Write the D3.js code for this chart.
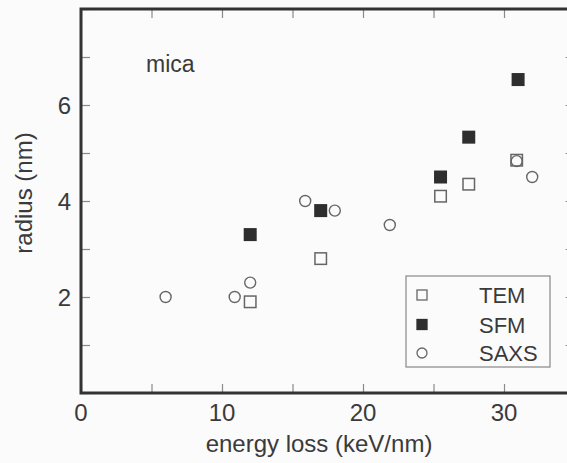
<!DOCTYPE html>
<html>
<head>
<meta charset="utf-8">
<script src="https://cdn.jsdelivr.net/npm/d3@7"></script>
<style>
html,body{margin:0;padding:0;background:#fbfbfb;}
svg{display:block;font-family:"Liberation Sans",Arial,Helvetica,sans-serif;}
</style>
</head>
<body>
<svg id="chart" width="567" height="463"></svg>
<script>
// ---- data ----
const temX = [12, 17, 25.5, 27.5, 30.9];
const temY = [1.9, 2.8, 4.1, 4.35, 4.85];
const sfmX = [12, 17, 25.5, 27.5, 31.0];
const sfmY = [3.3, 3.8, 4.5, 5.33, 6.53];
const saxsX = [6.0, 10.9, 12, 15.9, 18, 21.9, 30.9, 32];
const saxsY = [2.0, 2.0, 2.3, 4.0, 3.8, 3.5, 4.83, 4.5];
const xTickLabels = [0, 10, 20, 30];
const yTickLabels = [2, 4, 6];
const legendNames = ["TEM", "SFM", "SAXS"];

const svg = d3.select("#chart");
const x = d3.scaleLinear().domain([0, 35]).range([81, 574.5]);
const y = d3.scaleLinear().domain([0, 8]).range([393, 9]);

const textCol = "#3a3a3a";
const tickCol = "#8a8a8a";
const TL = 9;

const xTicks = d3.range(0, 36, 5);
const yTicks = d3.range(0, 9, 1);

function styleAxis(g){
  g.select(".domain").remove();
  g.selectAll(".tick line").attr("stroke", tickCol).attr("stroke-width", 1.2);
  g.selectAll(".tick text").remove();
}
svg.append("g").attr("transform", `translate(0,${y(0)})`)
  .call(d3.axisTop(x).tickValues(xTicks).tickSize(TL)).call(styleAxis);
svg.append("g").attr("transform", `translate(0,${y(8)})`)
  .call(d3.axisBottom(x).tickValues(xTicks).tickSize(TL)).call(styleAxis);
svg.append("g").attr("transform", `translate(${x(0)},0)`)
  .call(d3.axisRight(y).tickValues(yTicks).tickSize(TL)).call(styleAxis);
svg.append("g").attr("transform", `translate(${x(35)},0)`)
  .call(d3.axisLeft(y).tickValues(yTicks).tickSize(TL)).call(styleAxis);

// frame
svg.append("rect")
  .attr("x", x(0)).attr("y", y(8))
  .attr("width", x(35) - x(0)).attr("height", y(0) - y(8))
  .attr("fill", "none").attr("stroke", "#333").attr("stroke-width", 3);

// tick labels
svg.append("g").selectAll("text").data(xTickLabels).join("text")
  .attr("x", d => x(d)).attr("y", 421)
  .attr("text-anchor", "middle").attr("font-size", 24).attr("fill", textCol)
  .text(d => d);
svg.append("g").selectAll("text").data(yTickLabels).join("text")
  .attr("x", 71).attr("y", d => y(d) + 8.5)
  .attr("text-anchor", "end").attr("font-size", 24).attr("fill", textCol)
  .text(d => d);

// axis titles
svg.append("text").attr("x", 319).attr("y", 452)
  .attr("text-anchor", "middle").attr("font-size", 24).attr("fill", textCol)
  .text("energy loss (keV/nm)");
svg.append("text").attr("transform", `translate(32,193) rotate(-90)`)
  .attr("text-anchor", "middle").attr("font-size", 24).attr("fill", textCol)
  .text("radius (nm)");

// annotation
svg.append("text").attr("x", 146).attr("y", 72)
  .attr("font-size", 23).attr("fill", textCol).text("mica");

// markers
function drawSquares(xs, ys, filled, size){
  svg.append("g").selectAll("rect").data(xs.map((d, i) => [d, ys[i]])).join("rect")
    .attr("x", d => x(d[0]) - size / 2).attr("y", d => y(d[1]) - size / 2)
    .attr("width", size).attr("height", size)
    .attr("fill", filled ? "#2e2e2e" : "none")
    .attr("stroke", filled ? "#2e2e2e" : "#666").attr("stroke-width", 1.5);
}
function drawCircles(xs, ys, r){
  svg.append("g").selectAll("circle").data(xs.map((d, i) => [d, ys[i]])).join("circle")
    .attr("cx", d => x(d[0])).attr("cy", d => y(d[1])).attr("r", r)
    .attr("fill", "none").attr("stroke", "#666").attr("stroke-width", 1.4);
}
drawSquares(temX, temY, false, 11.5);
drawSquares(sfmX, sfmY, true, 11.5);
drawCircles(saxsX, saxsY, 5.5);

// legend
const lg = svg.append("g");
lg.append("rect").attr("x", 406).attr("y", 276).attr("width", 144).attr("height", 91)
  .attr("fill", "#fbfbfb").attr("stroke", "#888").attr("stroke-width", 1.2);
const rows = [295, 324.5, 353];
legendNames.forEach((name, i) => {
  const cy = rows[i], cx = 422, s = 10;
  if (i === 2) {
    lg.append("circle").attr("cx", cx).attr("cy", cy).attr("r", 5)
      .attr("fill", "none").attr("stroke", "#666").attr("stroke-width", 1.3);
  } else {
    lg.append("rect").attr("x", cx - s / 2).attr("y", cy - s / 2).attr("width", s).attr("height", s)
      .attr("fill", i === 1 ? "#2e2e2e" : "none")
      .attr("stroke", i === 1 ? "#2e2e2e" : "#666").attr("stroke-width", 1.3);
  }
  lg.append("text").attr("x", 479).attr("y", cy + 8)
    .attr("font-size", 22).attr("fill", textCol).text(name);
});
</script>
</body>
</html>
